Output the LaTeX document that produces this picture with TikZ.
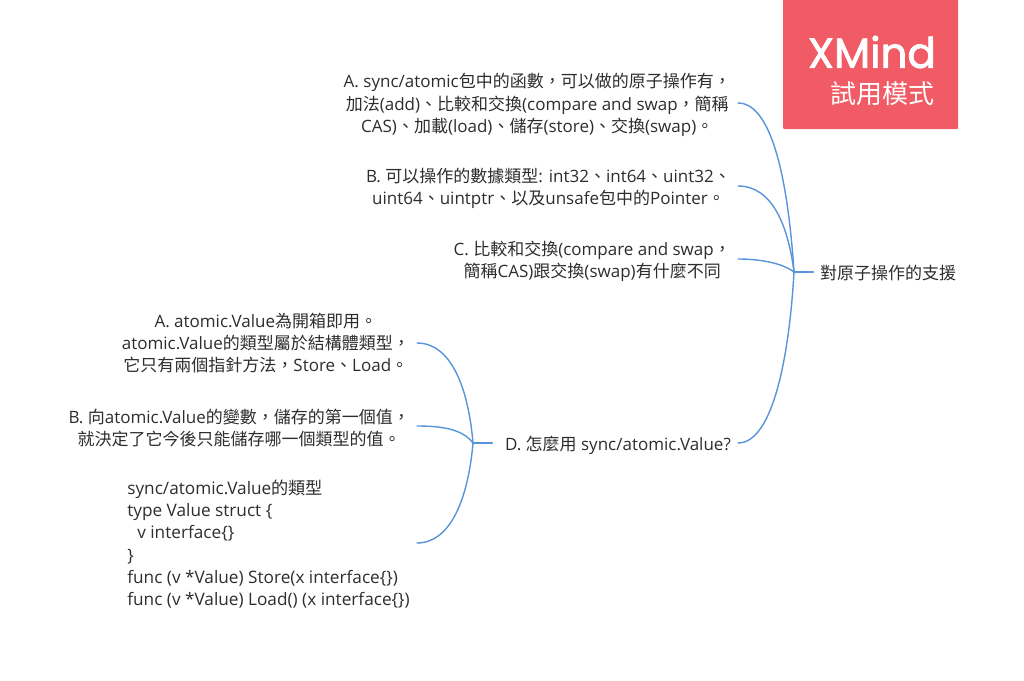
\documentclass[tikz,border=0pt]{standalone}
\usepackage{fontspec}
\setmainfont{Open Sans}
\newfontfamily\zhfont{Noto Sans CJK TC}
\newfontfamily\logofont[FakeBold=2]{Poppins}
\newcommand{\zh}[1]{{\zhfont #1}}
\definecolor{branch}{RGB}{88,148,219}
\definecolor{trial}{RGB}{241,91,101}
\definecolor{ink}{RGB}{45,45,45}
\tikzset{
  topic/.style={text=ink,align=center,inner xsep=7pt,inner ysep=0pt,font=\fontsize{17}{22.2}\selectfont},
  link/.style={branch,line width=1.4pt},
  stub/.style={branch,line width=2.2pt}
}
\begin{document}
\begin{tikzpicture}[x=1pt,y=-1pt,line cap=round]
  \useasboundingbox (0,0) rectangle (1024,680);
  % trial badge
  \fill[trial,rounded corners=1pt] (783,-2) rectangle (958,129);
  \node[white,anchor=east,inner sep=0pt,font=\logofont\fontsize{42}{42}\selectfont] (logo) at (936,52) {XMind};
  \node[white,anchor=east,inner sep=0pt,font=\zhfont\fontsize{26}{26}\selectfont] (mode) at (935,94) {試用模式};
  % right side
  \node[topic,anchor=west] (root) at (813,273) {\zh{對原子操作的支援}};
  \node[topic,anchor=east] (atomA) at (738,105) {A. sync/atomic\zh{包中的函數，可以做的原子操作有，}\\
    \zh{加法}(add)\zh{、比較和交換}(compare and swap\zh{，簡稱}\\
    CAS)\zh{、加載}(load)\zh{、儲存}(store)\zh{、交換}(swap)\zh{。}};
  \node[topic,anchor=east] (atomB) at (738,188) {B. \zh{可以操作的數據類型}: int32\zh{、}int64\zh{、}uint32\zh{、}\\
    uint64\zh{、}uintptr\zh{、以及}unsafe\zh{包中的}Pointer\zh{。}};
  \node[topic,anchor=east] (atomC) at (738,261) {C. \zh{比較和交換}(compare and swap\zh{，}\\
    \zh{簡稱}CAS)\zh{跟交換}(swap)\zh{有什麼不同}};
  \node[topic,anchor=east] (atomD) at (738,445) {D. \zh{怎麼用} sync/atomic.Value?};
  % left side
  \node[topic,anchor=east] (valueA) at (417,343) {A. atomic.Value\zh{為開箱即用。}\\
    atomic.Value\zh{的類型屬於結構體類型，}\\
    \zh{它只有兩個指針方法，}Store\zh{、}Load\zh{。}};
  \node[topic,anchor=east] (valueB) at (417,428) {B. \zh{向}atomic.Value\zh{的變數，儲存的第一個值，}\\
    \zh{就決定了它今後只能儲存哪一個類型的值。}};
  \node[topic,anchor=east,align=left,font=\fontsize{17.2}{22.2}\selectfont] (valueC) at (417,544) {sync/atomic.Value\zh{的類型}\\
    type Value struct \{\\
    \hspace*{10pt}v interface\{\}\\
    \}\\
    func (v *Value) Store(x interface\{\})\\
    func (v *Value) Load() (x interface\{\})};
  \coordinate (hubroot) at (794,272);
  \coordinate (hubD) at (473,443);
  \draw[stub] (hubroot) -- (root.west |- hubroot);
  \draw[stub] (hubD) -- (492,443);
  \draw[link] ([yshift=2pt]atomA.east) .. controls (775,103) and (789,195) .. (hubroot);
  \draw[link] ([yshift=2pt]atomB.east) .. controls (772,186) and (788,225) .. (hubroot);
  \draw[link] ([yshift=2pt]atomC.east) .. controls (760,259) and (782,263) .. (hubroot);
  \draw[link] ([yshift=2pt]atomD.east) .. controls (772,443) and (789,360) .. (hubroot);
  \draw[link] (valueA.east) .. controls (450,343) and (468,385) .. (hubD);
  \draw[link] ([yshift=2pt]valueB.east) .. controls (445,426) and (463,430) .. (hubD);
  \draw[link] ([yshift=1pt]valueC.east) .. controls (450,543) and (468,500) .. (hubD);
\end{tikzpicture}
\end{document}
